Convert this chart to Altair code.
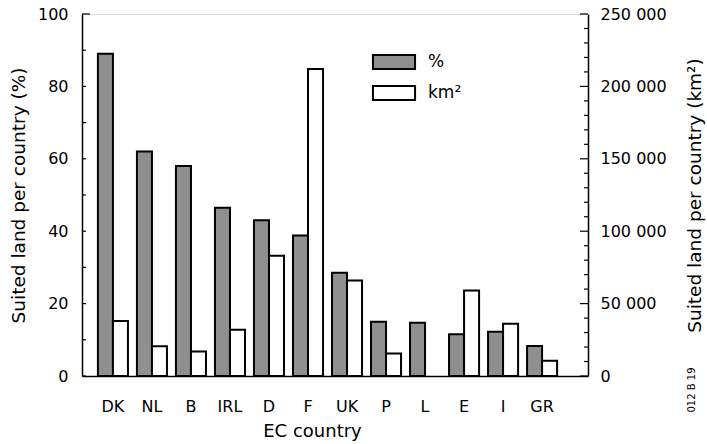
import altair as alt
import pandas as pd

countries = ["DK", "NL", "B", "IRL", "D", "F", "UK", "P", "L", "E", "I", "GR"]
pct = [89, 62, 58, 46.5, 43, 38.8, 28.5, 15, 14.7, 11.5, 12.2, 8.3]
km2 = [38000, 20500, 17000, 32000, 83000, 212000, 66000, 15500, None, 59000, 36000, 10500]
series = ["%", "km²"]
left_minor = list(range(0, 100, 10))
left_major = [100]
right_minor = [v for v in range(0, 250001, 10000) if v % 50000]
right_major = list(range(0, 250001, 50000))

W, H = 506, 362
FONT = "DejaVu Sans"

df_pct = pd.DataFrame({"country": countries, "series": series[0], "value": pct})
df_km = pd.DataFrame({"country": countries, "series": series[1], "value": km2}).dropna()

x_enc = alt.X(
    "country:N", sort=countries, title="EC country",
    scale=alt.Scale(paddingInner=0.23, paddingOuter=0.6, align=0.34),
    axis=alt.Axis(labelAngle=0, ticks=False, labelPadding=22, labelFontSize=16,
                  titleFontSize=18, titlePadding=8, titleX=230, titleAlign="center",
                  domainColor="black",
                  domainWidth=1.5, labelColor="black", titleColor="black",
                  titleFontWeight="normal", labelFont=FONT, titleFont=FONT),
)
xoff = alt.XOffset("series:N", scale=alt.Scale(domain=series, paddingInner=0, paddingOuter=0))
fill = alt.Fill(
    "series:N", scale=alt.Scale(domain=series, range=["#8f8f8f", "white"]),
    legend=alt.Legend(
        title=None, orient="none", legendX=298, legendY=34, padding=0,
        symbolType="M-1.62,-0.54H1.62V0.54H-1.62Z", symbolSize=676,
        symbolStrokeColor="black", symbolStrokeWidth=2, symbolFillColor="white",
        labelFontSize=17, labelOffset=20, rowPadding=5, labelColor="black",
        labelFont=FONT,
    ),
)

pct_scale = alt.Scale(domain=[0, 100], nice=False)
km_scale = alt.Scale(domain=[0, 250000], nice=False)

pct_axis = alt.Axis(orient="left", values=[0, 20, 40, 60, 80, 100], ticks=False,
                    grid=False, labelPadding=14, labelFontSize=16,
                    titleFontSize=18.5, titlePadding=9, domainColor="black",
                    domainWidth=1.5, labelColor="black", titleColor="black",
                    titleFontWeight="normal", labelFont=FONT, titleFont=FONT)
km_axis = alt.Axis(orient="right", values=right_major, ticks=False, grid=False,
                   labelPadding=12, labelFontSize=16, titleFontSize=18.5,
                   titlePadding=38, titleAngle=270, domainColor="black", domainWidth=1.5,
                   labelColor="black", titleColor="black", titleFontWeight="normal",
                   labelFont=FONT, titleFont=FONT,
                   labelExpr="replace(format(datum.value, ','), ',', ' ')")
PCT_TITLE = "Suited land per country (%)"
KM_TITLE = "Suited land per country (km²)"

bars_pct = alt.Chart(df_pct).mark_bar(stroke="black", strokeWidth=2).encode(
    x=x_enc, xOffset=xoff, fill=fill,
    y=alt.Y("value:Q", scale=pct_scale, title=PCT_TITLE, axis=pct_axis),
)


def rules(vals, scale, axis, title, x0, x1):
    return alt.Chart(pd.DataFrame({"v": vals})).mark_rule(color="black", strokeWidth=1.2).encode(
        y=alt.Y("v:Q", scale=scale, axis=axis, title=title),
        x=alt.value(x0), x2=alt.value(x1),
    )


left = alt.layer(
    bars_pct,
    rules(left_minor, pct_scale, pct_axis, PCT_TITLE, 0, 4),
    rules(left_major, pct_scale, pct_axis, PCT_TITLE, 0, 8),
)

bars_km = alt.Chart(df_km).mark_bar(stroke="black", strokeWidth=2).encode(
    x=x_enc, xOffset=xoff, fill=fill,
    y=alt.Y("value:Q", scale=km_scale, title=KM_TITLE, axis=km_axis),
)

right = alt.layer(
    bars_km,
    rules(right_minor, km_scale, km_axis, KM_TITLE, W - 4, W),
    rules(right_major, km_scale, km_axis, KM_TITLE, W - 8, W),
)

note = alt.Chart(pd.DataFrame({"t": ["012 B 19"]})).mark_text(
    angle=270, fontSize=10, font=FONT, color="black"
).encode(text="t:N", x=alt.value(610), y=alt.value(376))

chart = alt.layer(left, right, note).resolve_scale(y="independent").properties(
    width=W, height=H,
    autosize=alt.AutoSizeParams(type="none"),
    padding={"left": 82, "top": 14, "right": 707 - 82 - W, "bottom": 444 - 14 - H},
).configure_view(stroke=None).configure(font=FONT)

chart.save("out.html", embed_options={"renderer": "svg", "actions": False})
